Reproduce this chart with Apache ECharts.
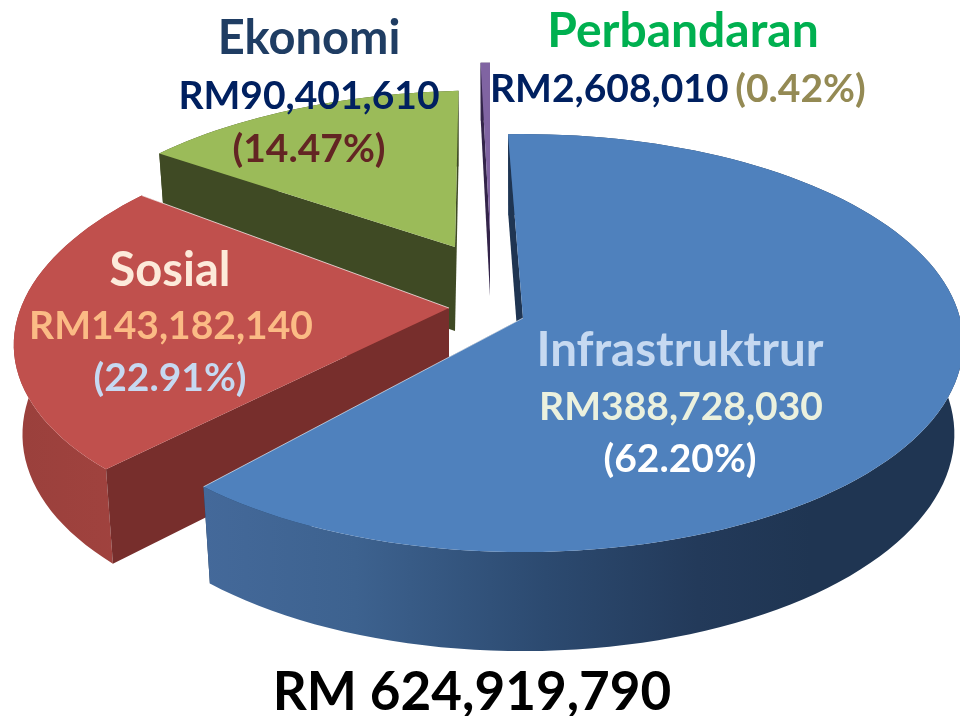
<!DOCTYPE html>
<html>
<head>
<meta charset="utf-8">
<style>html,body{margin:0;padding:0;background:#fff}#pie{width:960px;height:716px}</style>
<script src="https://cdn.jsdelivr.net/npm/echarts@6/dist/echarts.min.js"></script>
</head>
<body>
<div id="pie"></div>
<script>
// data
var categories = ['Infrastruktrur', 'Sosial', 'Ekonomi', 'Perbandaran'];
var amounts = [388728030, 143182140, 90401610, 2608010];
var percents = ['62.20', '22.91', '14.47', '0.42'];

// camera of the fake 3d pie
var RX = 437, RY = 206, PERSP = 0.12, START = -2.2;
// one entry per slice: apex on screen, scale, extra turn, lean, depth
var apexX = [523, 449, 455, 490];
var apexY = [318, 308, 247, 232];
var scales = [1, 0.99, 0.85, 0.92];
var widths = [1, 0.98, 0.92, 0.92];
var turns = [0, 2, 0.6, 2.2];
var leans = [0, -26, -23, 0];
var depths = [90, 88, 84, 64];
var edgeLight = [0.6, 0.7, 0, 0];
var topColors = ['#4f81bd', '#c0504d', '#9bbb59', '#8064a2'];
var cutColors = ['#1f3552', '#772e2c', '#3f4a24', '#33244a'];
var wallStops = [
    [[0, '#44699a'], [0.2, '#3d628f'], [0.45, '#2c4a70'], [0.65, '#233a5a'], [0.8, '#1f3552'], [1, '#1f3552']],
    [[0, '#9a403c'], [1, '#a2433f']],
    [[0, '#3f4a24'], [1, '#3f4a24']],
    [[0, '#33244a'], [1, '#33244a']]
];
var drawOrder = [3, 2, 1, 0];

var total = amounts.reduce(function (a, b) { return a + b; }, 0);
function money(n) { return n.toString().replace(/\B(?=(\d{3})+$)/g, ','); }

var startAngles = [], cum = START;
amounts.forEach(function (v) {
    startAngles.push(cum);
    cum += v / total * 360;
});

function rimPoint(i, deg, lowered) {
    var a = (deg + turns[i]) * Math.PI / 180;
    var u = Math.sin(a), v = -Math.cos(a);
    return place(i, u, v, lowered);
}
function place(i, u, v, lowered) {
    var f = 1 / (1 - PERSP * v);
    var x = widths[i] * RX * u * f + leans[i] * v, y = scales[i] * RY * v * f;
    if (lowered) {
        x *= 0.98;
        y += depths[i] * (1 + 0.1 * v);
    }
    return [apexX[i] + x, apexY[i] + y];
}

function renderSlice(params, api) {
    var i = api.value(0);
    var a0 = startAngles[i], a1 = a0 + api.value(1) / total * 360;
    var top = [], low = [], steps = Math.max(2, Math.ceil((a1 - a0) / 2));
    for (var k = 0; k <= steps; k++) {
        var d = a0 + (a1 - a0) * k / steps;
        top.push(rimPoint(i, d, false));
        low.push(rimPoint(i, d, true));
    }
    var apex = place(i, 0, 0, false), apexLow = place(i, 0, 0, true);
    var last = top.length - 1;
    var kids = [
        {type: 'polygon', shape: {points: [apex, top[last], low[last], apexLow]}, style: {fill: cutColors[i]}},
        {
            type: 'polygon',
            shape: {points: top.concat(low.slice().reverse())},
            style: {fill: new echarts.graphic.LinearGradient(0, 0, 1, 0, wallStops[i].map(function (s) {
                return {offset: s[0], color: s[1]};
            }))}
        },
        {type: 'polygon', shape: {points: [apex, top[0], low[0], apexLow]}, style: {fill: cutColors[i]}},
        {type: 'polygon', shape: {points: [apex].concat(top)}, style: {fill: topColors[i]}}
    ];
    if (edgeLight[i]) {
        kids.push({
            type: 'polyline',
            shape: {points: [apex, top[last]]},
            style: {fill: null, stroke: 'rgba(255,255,255,' + edgeLight[i] + ')', lineWidth: 1}
        });
    }
    return {type: 'group', children: kids};
}

function label(text, x, baseline, size, color) {
    return {
        type: 'text',
        x: x,
        y: baseline - size * 0.28,
        z: 10,
        style: {
            text: text,
            fill: color,
            align: 'center',
            verticalAlign: 'middle',
            font: 'bold ' + size + 'px Lato'
        }
    };
}

var chart = echarts.init(document.getElementById('pie'));
chart.setOption({
    animation: false,
    backgroundColor: '#fff',
    xAxis: {show: false},
    yAxis: {show: false},
    grid: {left: 0, right: 0, top: 0, bottom: 0},
    series: [{
        type: 'custom',
        coordinateSystem: 'none',
        silent: true,
        renderItem: renderSlice,
        data: drawOrder.map(function (i) { return {name: categories[i], value: [i, amounts[i]]}; })
    }],
    graphic: [
        label(categories[2], 309, 52, 47, '#1f3d63'),
        label('RM' + money(amounts[2]), 309, 107, 39, '#002060'),
        label('(' + percents[2] + '%)', 309, 160, 39, '#632523'),
        label(categories[3], 683, 45, 48, '#00b050'),
        {
            type: 'text', x: 490, y: 89, z: 10,
            style: {
                text: '{a|RM' + money(amounts[3]) + '}  {b|(' + percents[3] + '%)}',
                align: 'left',
                verticalAlign: 'middle',
                rich: {
                    a: {font: 'bold 39px Lato', fill: '#002060'},
                    b: {font: 'bold 39px Lato', fill: '#948a54'}
                }
            }
        },
        label(categories[1], 170, 284, 47, '#fdeada'),
        label('RM' + money(amounts[1]), 171, 337, 39, '#fbbb85'),
        label('(' + percents[1] + '%)', 170, 389, 39, '#c6d9f1'),
        label(categories[0], 680, 364, 47.5, '#c6d9f1'),
        label('RM' + money(amounts[0]), 681, 418, 39, '#ebf1de'),
        label('(' + percents[0] + '%)', 680, 470, 39, '#ffffff'),
        label('RM ' + money(total), 472, 708, 53, '#000000')
    ]
});
</script>
</body>
</html>
